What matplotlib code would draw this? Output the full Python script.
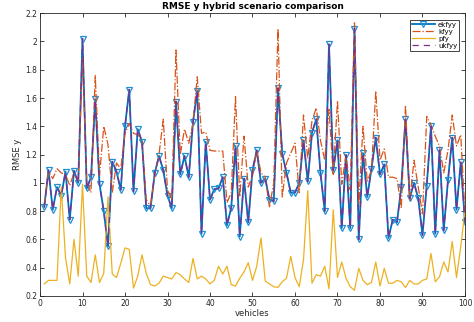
import numpy as np
import matplotlib
matplotlib.use("Agg")
import matplotlib.pyplot as plt

# RMSE y per vehicle
vehicles = list(range(1, 101))

ekfyy = [0.83, 1.09, 0.81, 0.97, 0.91, 1.08, 0.74, 1.085, 1.00, 2.02,
         0.96, 1.04, 1.59, 0.99, 0.80, 0.55, 1.15, 1.08, 0.95, 1.40,
         1.66, 0.94, 1.38, 1.29, 0.82, 0.82, 1.07, 1.19, 1.09, 0.91,
         0.82, 1.575, 1.06, 1.19, 1.04, 1.43, 1.65, 0.64, 1.29, 0.88,
         0.955, 0.96, 1.04, 0.70, 0.825, 1.26, 0.62, 1.03, 0.72, 1.09,
         1.23, 1.00, 1.03, 0.88, 0.87, 1.67, 1.205, 1.07, 0.93, 0.93,
         1.00, 1.30, 1.01, 1.355, 1.45, 1.07, 0.80, 1.98, 1.09, 1.30,
         0.68, 1.195, 0.68, 2.09, 0.60, 1.21, 0.90, 1.10, 1.32, 1.06,
         1.13, 0.61, 0.74, 0.72, 0.97, 1.45, 0.89, 1.00, 0.89, 0.63,
         0.98, 1.40, 0.64, 1.23, 0.665, 1.02, 1.32, 0.81, 1.145, 0.72]

kfyy = [0.84, 1.08, 1.03, 1.10, 1.07, 1.06, 0.98, 1.07, 1.02, 1.88,
        1.00, 0.93, 1.76, 1.05, 1.40, 1.27, 0.93, 1.14, 1.10, 1.35,
        1.42, 1.35, 1.34, 1.30, 0.88, 0.84, 1.05, 1.20, 1.45, 0.95,
        0.88, 1.94, 1.20, 1.38, 1.28, 1.42, 1.75, 1.35, 1.36, 1.23,
        1.225, 1.225, 1.225, 0.86, 0.93, 1.61, 0.90, 1.33, 0.97, 1.05,
        1.23, 1.07, 1.04, 0.83, 1.00, 2.09, 0.90, 1.14, 1.21, 1.28,
        0.93, 1.48, 1.17, 1.44, 1.53, 1.30, 1.16, 1.52, 1.06, 1.58,
        0.99, 1.20, 0.95, 2.14, 0.85, 1.40, 1.01, 1.09, 1.65, 1.16,
        1.24, 1.04, 1.04, 1.03, 0.82, 1.55, 0.87, 1.16, 0.97, 0.78,
        1.47, 1.41, 1.33, 1.26, 1.07, 1.23, 1.48, 1.26, 1.34, 0.78]

pfy = [0.285, 0.31, 0.31, 0.31, 0.97, 0.47, 0.285, 0.60, 0.34, 0.99,
       0.34, 0.295, 0.49, 0.295, 0.36, 0.90, 0.355, 0.33, 0.43, 0.54,
       0.53, 0.255, 0.34, 0.49, 0.36, 0.28, 0.27, 0.29, 0.34, 0.33,
       0.32, 0.365, 0.35, 0.32, 0.295, 0.465, 0.32, 0.34, 0.32, 0.285,
       0.31, 0.41, 0.355, 0.41, 0.28, 0.27, 0.325, 0.37, 0.435, 0.31,
       0.41, 0.61, 0.305, 0.285, 0.265, 0.26, 0.30, 0.325, 0.48, 0.33,
       0.265, 0.455, 0.945, 0.29, 0.35, 0.34, 0.41, 0.25, 0.81, 0.33,
       0.44, 0.325, 0.265, 0.24, 0.395, 0.31, 0.28, 0.295, 0.44, 0.27,
       0.395, 0.29, 0.29, 0.31, 0.30, 0.26, 0.31, 0.285, 0.285, 0.31,
       0.32, 0.50, 0.30, 0.335, 0.44, 0.37, 0.585, 0.33, 0.55, 0.80]

# ukf overlaps ekf exactly in the reference
ukfyy = [0.83, 1.09, 0.81, 0.97, 0.91, 1.08, 0.74, 1.085, 1.00, 2.02,
         0.96, 1.04, 1.59, 0.99, 0.80, 0.55, 1.15, 1.08, 0.95, 1.40,
         1.66, 0.94, 1.38, 1.29, 0.82, 0.82, 1.07, 1.19, 1.09, 0.91,
         0.82, 1.575, 1.06, 1.19, 1.04, 1.43, 1.65, 0.64, 1.29, 0.88,
         0.955, 0.96, 1.04, 0.70, 0.825, 1.26, 0.62, 1.03, 0.72, 1.09,
         1.23, 1.00, 1.03, 0.88, 0.87, 1.67, 1.205, 1.07, 0.93, 0.93,
         1.00, 1.30, 1.01, 1.355, 1.45, 1.07, 0.80, 1.98, 1.09, 1.30,
         0.68, 1.195, 0.68, 2.09, 0.60, 1.21, 0.90, 1.10, 1.32, 1.06,
         1.13, 0.61, 0.74, 0.72, 0.97, 1.45, 0.89, 1.00, 0.89, 0.63,
         0.98, 1.40, 0.64, 1.23, 0.665, 1.02, 1.32, 0.81, 1.145, 0.72]

fig = plt.figure(figsize=(4.74, 3.22), dpi=100)
ax = fig.add_axes([0.0844, 0.081, 0.8966, 0.878])

ax.plot(vehicles, ekfyy, color='#0072BD', lw=1.3, marker='v', ms=4,
        mfc='none', mec='#1f8fd6', mew=0.9, label='ekfyy')
ax.plot(vehicles, kfyy, color='#D95319', lw=0.9, ls='-.', label='kfyy')
ax.plot(vehicles, pfy, color='#EDB120', lw=0.9, label='pfy')
ax.plot(vehicles, ukfyy, color='#7E2F8E', lw=0.9, ls=(0, (5, 4)), label='ukfyy')

ax.set_xlim(0, 100)
ax.set_ylim(0.2, 2.2)
ax.set_xticks(np.arange(0, 101, 10))
ax.set_yticks(np.arange(0.2, 2.21, 0.2))
ax.set_yticklabels(['0.2', '0.4', '0.6', '0.8', '1', '1.2', '1.4', '1.6', '1.8', '2', '2.2'])
ax.tick_params(direction='in', length=3, width=0.6, labelsize=5.5,
               top=True, right=True, colors='#262626', pad=2)
for s in ax.spines.values():
    s.set_linewidth(0.6)
    s.set_color('#262626')

ax.set_title('RMSE y hybrid scenario comparison', fontsize=6.5, fontweight='bold', pad=3)
ax.set_xlabel('vehicles', fontsize=6, color='#262626', labelpad=1)
ax.set_ylabel('RMSE y', fontsize=6, color='#262626', labelpad=2)

leg = ax.legend(loc='upper right', fontsize=5, fancybox=False, framealpha=1,
                edgecolor='#262626', handlelength=3.2, borderpad=0.3,
                labelspacing=0.15, handletextpad=0.5, bbox_to_anchor=(0.995, 0.99))
leg.get_frame().set_linewidth(0.6)

fig.savefig('out.png', dpi=100)
